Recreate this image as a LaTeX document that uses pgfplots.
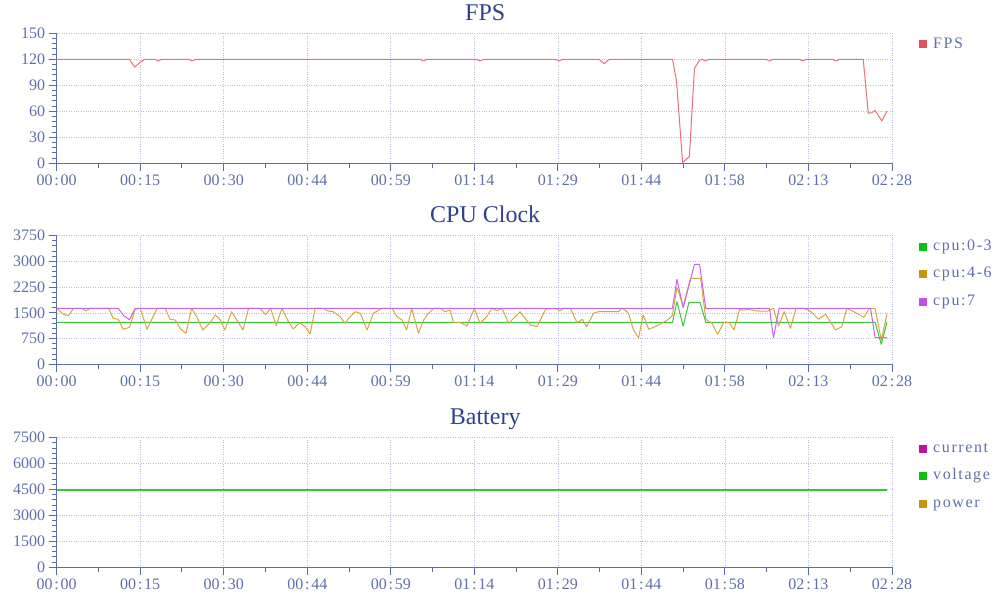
\documentclass[border=0pt]{standalone}
\usepackage{fontspec}
\setmainfont{Liberation Serif}
\newfontfamily\legfont[LetterSpace=10]{Liberation Serif}
\usepackage{pgfplots}
\pgfplotsset{compat=1.18}

\definecolor{axisc}{HTML}{5B6BB0}
\definecolor{labc}{HTML}{5F6FA8}
\definecolor{titc}{HTML}{2E4190}
\definecolor{gridc}{HTML}{B8BEE6}
\definecolor{fpsc}{HTML}{E8707C}
\definecolor{fpsleg}{HTML}{E0505E}
\definecolor{grnc}{HTML}{3CC43C}
\definecolor{grnleg}{HTML}{10C010}
\definecolor{ylwc}{HTML}{D4A840}
\definecolor{ylwleg}{HTML}{C8960A}
\definecolor{prpc}{HTML}{CC66E0}
\definecolor{prpleg}{HTML}{C050E0}
\definecolor{magleg}{HTML}{C010A0}

\newcommand\cc{\kern1.8pt:\kern1.8pt}

\pgfplotsset{
 panel/.style={
  scale only axis, width=835.3pt,
  xmin=0, xmax=148,
  axis x line*=bottom, axis y line*=left,
  axis line style={draw=axisc, line width=1.4pt, -},
  xtick={0,14.8,29.6,44.4,59.2,74,88.8,103.6,118.4,133.2,148},
  xticklabels={00\cc00,00\cc15,00\cc30,00\cc44,00\cc59,01\cc14,01\cc29,01\cc44,01\cc58,02\cc13,02\cc28},
  minor x tick num=1, minor y tick num=4,
  tick align=outside,
  major tick length=8pt, minor tick length=5pt,
  tick style={draw=axisc, line width=1pt},
  grid=major,
  major grid style={dotted, draw=gridc, line width=0.7pt},
  ticklabel style={font=\fontsize{16}{16}\selectfont, text=labc},
  /pgf/number format/assume math mode=true,
  /pgf/number format/1000 sep={},
  title style={at={(axis description cs:0.513,1)}, anchor=base, yshift=6.8pt, font=\fontsize{24}{24}\selectfont, text=titc},
  legend style={draw=none, fill=none, at={(axis description cs:1,1)}, anchor=north west, xshift=27pt, yshift=-3.5pt, font=\legfont\fontsize{16}{16}\selectfont, text=labc, row sep=13pt, column sep=6pt, inner sep=0pt, nodes={inner sep=0pt, text height=11pt, text depth=3.5pt}},
  legend cell align=left,
  legend image code/.code={\fill[##1] (0pt,-3.5pt) rectangle (7pt,3.5pt);},
  every axis plot/.append style={line width=1pt, line join=round},
 },
}

\begin{document}
\begin{tikzpicture}
\useasboundingbox (0,0) rectangle (1000pt,-614pt);

% ---------------- FPS ----------------
\begin{axis}[panel, at={(56.7pt,-33.3pt)}, anchor=north west, height=130pt,
  ymin=0, ymax=150, ytick={0,30,60,90,120,150}, title={FPS}]
\addplot[fpsc, forget plot] coordinates {
(0,120) (12.9,120) (13.8,111) (14.7,116) (15.6,120)
(17.4,120) (18.0,118) (18.6,120)
(23.4,120) (24.0,118) (24.6,120)
(64.4,120) (65.0,118) (65.6,120)
(74.4,120) (75.0,118) (75.6,120)
(88.4,120) (89.0,118) (89.6,120)
(96.1,120) (97.0,115) (97.9,120)
(109.1,120) (109.8,96) (110.9,1) (112.1,7.7) (113.0,109.6) (113.9,119)
(114.4,120) (114.9,118) (115.6,120)
(125.7,120) (126.3,118) (126.9,120)
(131.6,120) (132.2,118) (132.8,120)
(137.5,120) (138.1,118) (138.7,120)
(142.9,120) (143.8,57.7) (144.4,58.4) (145.0,61) (146.2,48.8) (147.1,60.3)
};
\addlegendimage{fpsleg}
\addlegendentry{FPS}
\end{axis}

% ---------------- CPU Clock ----------------
\begin{axis}[panel, at={(56.7pt,-235.7pt)}, anchor=north west, height=128.6pt,
  ymin=0, ymax=3750, ytick={0,750,1500,2250,3000,3750}, title={CPU Clock}]
\addplot[grnc, forget plot] coordinates {
(0,1225) (109.1,1225) (109.9,1825) (111.0,1117) (112.0,1800) (114.0,1800)
(115.0,1225) (145.0,1225) (146.1,583) (147.1,1225)
};
\addplot[ylwc, forget plot] coordinates {
(0,1633) (1.2,1458) (2.1,1418) (3.0,1633) (4.4,1633) (5.2,1554) (5.9,1633)
(9.2,1633) (10.0,1341) (10.9,1312) (11.8,1021) (12.9,1079) (13.9,1604)
(14.8,1633) (16.0,1021) (17.8,1633) (19.2,1633) (20.1,1312) (21.0,1292)
(22.0,1021) (22.9,904) (23.9,1633) (24.8,1389) (25.9,1000) (27.1,1196)
(28.1,1438) (29.0,1292) (29.8,1000) (31.0,1534) (31.9,1292) (33.0,1000)
(34.0,1633) (36.0,1633) (37.0,1450) (37.9,1633) (38.9,1127) (39.9,1633)
(40.9,1292) (41.9,1029) (43.1,1214) (44.0,1097) (44.9,884) (45.8,1633)
(47.3,1633) (47.9,1564) (49.0,1534) (50.2,1389) (51.1,1196) (52.0,1389)
(52.9,1534) (53.8,1487) (55.0,1000) (56.1,1487) (57.6,1633) (59.4,1633)
(60.3,1389) (61.2,1292) (62.0,1000) (62.9,1633) (64.1,904) (65.0,1292)
(65.9,1487) (66.8,1633) (67.9,1633) (68.8,1534) (69.7,1583) (70.3,1214)
(71.5,1214) (72.7,1117) (74.0,1633) (75.0,1196) (76.2,1389) (77.1,1633)
(78.0,1564) (78.9,1633) (80.1,1196) (82.1,1534) (83.0,1341) (83.9,1146)
(85.1,1097) (86.0,1389) (86.6,1604) (88.3,1633) (89.2,1564) (89.8,1633)
(91.0,1633) (92.2,1214) (93.1,1312) (93.9,1097) (95.1,1487) (96.0,1534)
(99.6,1534) (100.1,1633) (100.7,1583) (101.3,1487) (102.2,1000) (103.1,770)
(103.9,1438) (104.9,1021) (106.3,1117) (107.6,1230) (108.6,1340) (109.1,1438)
(109.9,2245) (111.0,1700) (112.3,2508) (114.1,2508) (115.0,1312) (116.1,1196)
(117.1,875) (118.2,1225) (119.2,1210) (120.0,1000) (121.0,1604) (121.7,1580)
(122.6,1604) (124.1,1554) (126.0,1554) (127.0,1633) (127.9,1117) (128.9,1534)
(130.0,1049) (131.0,1633) (132.3,1633) (133.5,1554) (135.0,1312) (136.2,1467)
(138.0,1000) (139.1,1097) (140.0,1633) (141.8,1487) (143.0,1370) (144.0,1633)
(145.0,1633) (146.1,709) (147.1,1458)
};
\addplot[prpc, forget plot] coordinates {
(0,1633) (10.9,1633) (11.8,1430) (12.9,1300) (13.9,1633)
(109.1,1633) (109.9,2478) (111.0,1650) (113.0,2916) (113.9,2916) (115.0,1633)
(126.3,1633) (127.0,776) (128.0,1633)
(144.2,1633) (145.0,776) (147.1,776)
};
\addlegendimage{grnleg}
\addlegendentry{cpu:0-3}
\addlegendimage{ylwleg}
\addlegendentry{cpu:4-6}
\addlegendimage{prpleg}
\addlegendentry{cpu:7}
\end{axis}

% ---------------- Battery ----------------
\begin{axis}[panel, at={(56.7pt,-437.7pt)}, anchor=north west, height=129.6pt,
  ymin=0, ymax=7500, ytick={0,1500,3000,4500,6000,7500}, title={Battery}]
\addplot[grnc, line width=1.3pt, forget plot] coordinates {
(0,4473) (147.1,4473)
};
\addlegendimage{magleg}
\addlegendentry{current}
\addlegendimage{grnleg}
\addlegendentry{voltage}
\addlegendimage{ylwleg}
\addlegendentry{power}
\end{axis}
\end{tikzpicture}
\end{document}
